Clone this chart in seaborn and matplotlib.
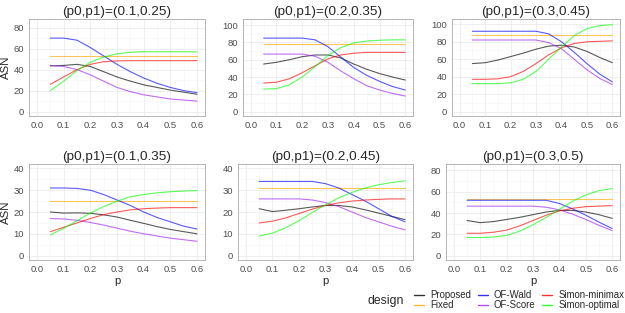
import numpy as np
import pandas as pd
import matplotlib
matplotlib.use("Agg")
import matplotlib.pyplot as plt
from matplotlib.lines import Line2D
import seaborn as sns

p = [0.05, 0.10, 0.15, 0.20, 0.25, 0.30, 0.35, 0.40, 0.45, 0.50, 0.55, 0.60]
designs = ["Proposed", "Fixed", "OF-Wald", "OF-Score", "Simon-minimax", "Simon-optimal"]
colors = ["black", "orange", "blue", "#A020F0", "red", "#00FF00"]
titles = ["(p0,p1)=(0.1,0.25)", "(p0,p1)=(0.2,0.35)", "(p0,p1)=(0.3,0.45)",
          "(p0,p1)=(0.1,0.35)", "(p0,p1)=(0.2,0.45)", "(p0,p1)=(0.3,0.5)"]

# ASN curves per scenario, in design order
asn1 = {
    "Proposed": [43.5, 44, 45, 43, 38, 33, 29, 25.5, 23, 20.5, 18.5, 16.5],
    "Fixed": [53] * 12,
    "OF-Wald": [70, 70, 68, 61, 53, 45, 38, 32, 27, 23, 20, 18],
    "OF-Score": [44, 43, 40, 35, 29, 23, 19, 16, 14, 12, 11, 10],
    "Simon-minimax": [26, 33, 40, 45, 47.5, 48.3, 48.5, 48.5, 48.5, 48.5, 48.5, 48.5],
    "Simon-optimal": [20, 29, 39, 47, 52, 55, 56.5, 57, 57, 57, 57, 57],
}
asn2 = {
    "Proposed": [55, 57, 60, 63.5, 65.5, 65.5, 62, 55, 49, 44, 40, 36.5],
    "Fixed": [78] * 12,
    "OF-Wald": [85, 85, 85, 85, 83, 75, 63, 51, 42, 35, 29, 25],
    "OF-Score": [66.5, 66.5, 66.5, 66.5, 64, 57, 47, 38, 30, 25, 21, 18],
    "Simon-minimax": [33, 34, 38, 45, 53, 61, 65.5, 67.5, 68.5, 68.5, 68.5, 68.5],
    "Simon-optimal": [26, 26.5, 31, 40, 52, 65, 74, 79.5, 81.5, 82.5, 83, 83],
}
asn3 = {
    "Proposed": [55, 56, 59, 63, 67, 71.5, 75, 76, 74, 69, 62, 56],
    "Fixed": [88] * 12,
    "OF-Wald": [92, 92, 92, 92, 92, 92, 89, 80, 68, 55, 43, 34],
    "OF-Score": [82, 82, 82, 82, 82, 82, 79, 72, 60, 48, 38, 31],
    "Simon-minimax": [37, 37, 37.5, 40, 46, 55, 65, 73, 78, 80, 80.5, 81],
    "Simon-optimal": [32, 32, 32, 33, 37, 46, 60, 74, 87, 95, 98.5, 99.5],
}
asn4 = {
    "Proposed": [20, 19.5, 19.6, 19.4, 18.7, 17.7, 16.2, 14.8, 13.3, 12, 11, 10],
    "Fixed": [25] * 12,
    "OF-Wald": [31, 31, 30.8, 30, 28, 25.5, 23, 20, 17.5, 15.5, 13.5, 12.2],
    "OF-Score": [17, 16.8, 16.2, 15.2, 14, 12.6, 11.2, 10, 9, 8, 7.3, 6.6],
    "Simon-minimax": [11, 13, 15, 17, 18.8, 20, 21, 21.5, 21.8, 22, 22, 22],
    "Simon-optimal": [9.5, 12.5, 16, 19.5, 22.5, 25, 27, 28, 28.8, 29.3, 29.6, 29.8],
}
asn5 = {
    "Proposed": [21.5, 20.2, 20.8, 21.5, 22.3, 23, 23, 22.3, 21, 19.5, 18, 16.5],
    "Fixed": [31] * 12,
    "OF-Wald": [34, 34, 34, 34, 34, 33, 31, 28, 25, 21.5, 18, 15.5],
    "OF-Score": [26, 26, 26, 26, 25.5, 24.3, 22.5, 20, 17.5, 15.5, 13.5, 11.8],
    "Simon-minimax": [15, 15.8, 17.3, 19.3, 21.3, 23, 24.2, 25, 25.5, 25.8, 26, 26],
    "Simon-optimal": [9, 10.3, 12.8, 16, 19.8, 23.3, 26.5, 29, 31, 32.5, 33.5, 34.3],
}
asn6 = {
    "Proposed": [33, 31, 32, 34, 36, 38.5, 41, 42.5, 42.5, 41, 38.5, 35],
    "Fixed": [53.5] * 12,
    "OF-Wald": [52, 52, 52, 52, 52, 52, 52, 49, 44, 38, 31.5, 25.5],
    "OF-Score": [46.5, 46.5, 46.5, 46.5, 46.5, 46.5, 45.5, 43, 39, 34, 28.5, 23.5],
    "Simon-minimax": [21, 21, 22, 24, 28, 33, 38, 42, 44.5, 46, 46.5, 47],
    "Simon-optimal": [17, 17, 17.5, 19, 23, 29, 36, 43.5, 51, 57, 61, 63],
}
scenarios = [asn1, asn2, asn3, asn4, asn5, asn6]
ytop = [84, 102, 101, 40, 40, 82]
ystep = [20, 20, 20, 10, 10, 20]

# panel boxes in pixels: left, right, top, bottom
W, H = 625, 313
boxes = [(29, 205, 19, 116), (243, 413, 19, 116), (452, 620, 19, 116),
         (29, 205, 164, 260), (238, 413, 164, 260), (446, 620, 164, 260)]

sns.set_style("white")
plt.rcParams["font.family"] = "sans-serif"
plt.rcParams["font.sans-serif"] = ["Liberation Sans"]
fig = plt.figure(figsize=(W / 100, H / 100), dpi=100)

pal = dict(zip(designs, colors))
for i, data in enumerate(scenarios):
    l, r, t, b = boxes[i]
    ax = fig.add_axes([l / W, 1 - b / H, (r - l) / W, (b - t) / H])
    df = pd.DataFrame(data)
    df["p"] = p
    long = df.melt(id_vars="p", var_name="design", value_name="ASN")
    sns.lineplot(data=long, x="p", y="ASN", hue="design", hue_order=designs,
                 palette=pal, ax=ax, legend=False, lw=0.8, alpha=0.65)
    top = ytop[i]
    ax.set_xlim(-0.03, 0.63)
    ax.set_ylim(-0.05 * top, 1.05 * top)
    ax.set_xticks(np.arange(0, 0.61, 0.1))
    ax.set_xticklabels([f"{v:.1f}" for v in np.arange(0, 0.61, 0.1)])
    ax.set_yticks(np.arange(0, top + 0.1, ystep[i]))
    ax.set_xticks(np.arange(0.05, 0.6, 0.1), minor=True)
    ax.set_yticks(np.arange(ystep[i] / 2, top, ystep[i]), minor=True)
    ax.grid(True, which="major", color="#EBEBEB", lw=0.6)
    ax.grid(True, which="minor", color="#F5F5F5", lw=0.4)
    ax.set_axisbelow(True)
    ax.tick_params(which="major", length=2, width=0.5, color="#333333",
                   labelsize=6.8, labelcolor="#4D4D4D", pad=1.5)
    ax.tick_params(which="minor", length=0)
    for s in ax.spines.values():
        s.set_color("#AAAAAA")
        s.set_linewidth(0.6)
    ax.set_title(titles[i], fontsize=9.7, pad=3)
    if i % 3 == 0:
        ax.set_ylabel("ASN", fontsize=8.2)
        ax.yaxis.set_label_coords((11 - l) / (r - l), 0.5)
    else:
        ax.set_ylabel("")
    if i >= 3:
        ax.set_xlabel("p", fontsize=8.2)
        ax.xaxis.set_label_coords(0.5, -(276 - b) / (b - t))
    else:
        ax.set_xlabel("")

handles = [Line2D([], [], color=c, lw=1.0, alpha=0.8) for c in colors]
fig.text(368 / W, 1 - 301 / H, "design", fontsize=8.8, va="center", ha="left")
fig.legend(handles, designs, ncol=3, loc="center left",
           bbox_to_anchor=(409 / W, 1 - 300 / H), frameon=False,
           fontsize=6.9, handlelength=1.05, handletextpad=0.65,
           columnspacing=0.7, labelspacing=0.0, borderpad=0)

fig.savefig("out.png", dpi=100)
